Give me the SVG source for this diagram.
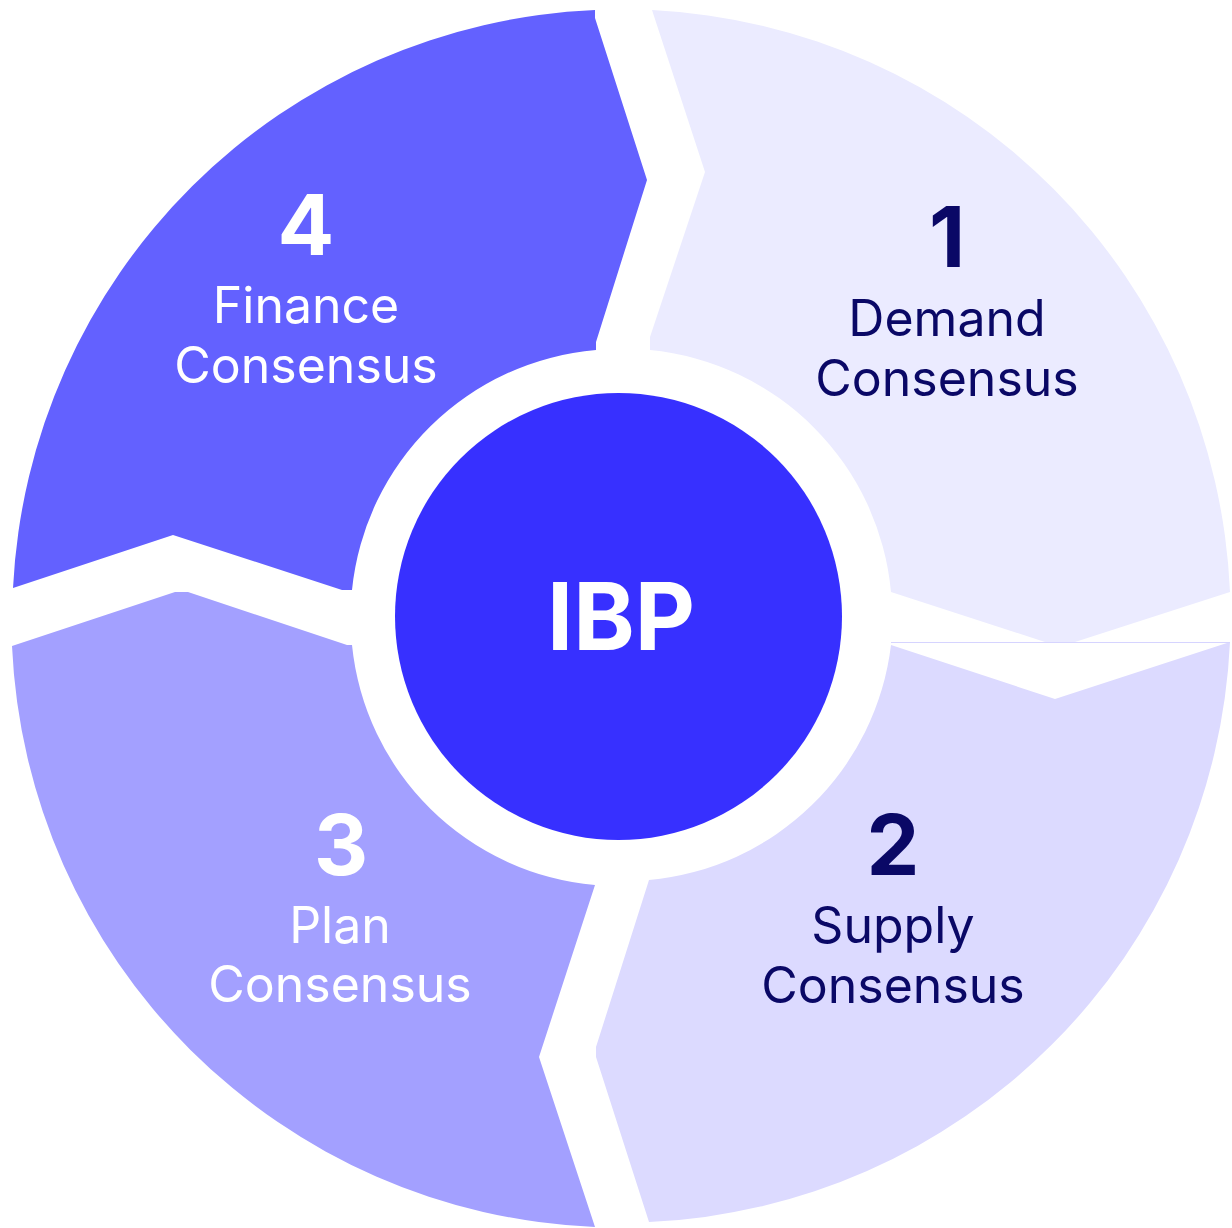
<svg xmlns="http://www.w3.org/2000/svg" width="1232" height="1228" viewBox="0 0 1232 1228">
<style>
.num{font-family:Inter,"Liberation Sans",sans-serif;font-weight:700;font-size:84px;text-anchor:middle}
.lbl{font-family:Inter,"Liberation Sans",sans-serif;font-weight:400;font-size:50px;text-anchor:middle}
.light{fill:#FFFFFF}
.dark{fill:#0A0866}
.hub{font-family:Inter,"Liberation Sans",sans-serif;font-weight:700;font-size:93px;text-anchor:middle;fill:#FFFFFF}
</style>
<rect width="1232" height="1228" fill="#FFFFFF"/>
<g id="demand">
<path d="M 652 10 A 609 609 0 0 1 1230 592 L 1075 642 L 1045 642 L 891 592 A 268 268 0 0 0 650 350 L 650 337 L 705 172 Z" fill="#EBEBFF"/>
<text class="num dark" x="947" y="267">1</text>
<text class="lbl dark" x="947" y="336">Demand</text>
<text class="lbl dark" x="947" y="396">Consensus</text>
</g>
<g id="supply">
<path d="M 891 645 L 1055 699 L 1230 642 A 609 609 0 0 1 649 1222 L 596 1057 L 596 1047 L 649 880 A 268 268 0 0 0 891 645 Z" fill="#DCDAFF"/>
<line x1="891" y1="642.5" x2="1230" y2="642.5" stroke="#D6D4FF" stroke-width="1"/>
<text class="num dark" x="893" y="875">2</text>
<text class="lbl dark" x="893" y="943">Supply</text>
<text class="lbl dark" x="893" y="1003">Consensus</text>
</g>
<g id="plan">
<path d="M 595 1227 A 609 609 0 0 1 12 646 L 175 592 L 188 592 L 347 645 L 352 645 A 268 268 0 0 0 595 885 L 539 1057 Z" fill="#A3A0FF"/>
<text class="num light" x="341" y="875">3</text>
<text class="lbl light" x="340" y="943">Plan</text>
<text class="lbl light" x="340" y="1002">Consensus</text>
</g>
<g id="finance">
<path d="M 13 588 A 609 609 0 0 1 595 10 L 595 18 L 647 180 L 596 342 L 596 350 A 268 268 0 0 0 352 590 L 342 590 L 173 535 Z" fill="#6361FF"/>
<text class="num light" x="306" y="255">4</text>
<text class="lbl light" x="306" y="323">Finance</text>
<text class="lbl light" x="306" y="383">Consensus</text>
</g>
<g id="ibp">
<circle cx="618.5" cy="616.5" r="223.5" fill="#3730FF"/>
<text class="hub" x="621" y="650">IBP</text>
</g>
<g id="connectors"></g>
</svg>
